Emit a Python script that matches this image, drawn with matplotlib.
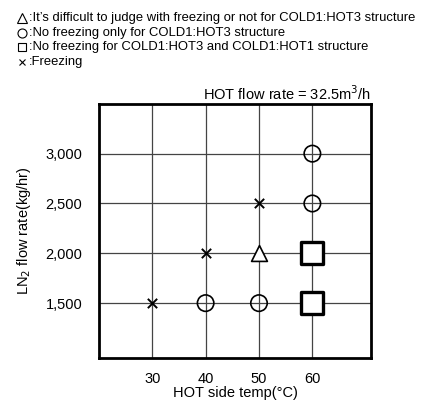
import matplotlib
matplotlib.use('Agg')
import matplotlib.pyplot as plt
from matplotlib.lines import Line2D

plt.rcParams['font.family'] = ['Liberation Sans', 'DejaVu Sans']

# Data
freeze_temp = [30, 40, 50]
freeze_flow = [1500, 2000, 2500]
circle_temp = [40, 50, 60, 60]
circle_flow = [1500, 1500, 2500, 3000]
triangle_temp = [50]
triangle_flow = [2000]
square_temp = [60, 60]
square_flow = [1500, 2000]

xticks = [30, 40, 50, 60]
yticks = [1500, 2000, 2500, 3000]
ytick_labels = ['1,500', '2,000', '2,500', '3,000']

legend_markers = ['^', 'o', 's', 'x']
legend_texts = [
    ':It\u2019s difficult to judge with freezing or not for COLD1:HOT3 structure',
    ':No freezing only for COLD1:HOT3 structure',
    ':No freezing for COLD1:HOT3 and COLD1:HOT1 structure',
    ':Freezing',
]

fig = plt.figure(figsize=(4.28, 4.04), dpi=100)
ax = fig.add_axes([0.231, 0.114, 0.636, 0.629])

ax.set_xlim(20, 71)
ax.set_ylim(950, 3500)
ax.set_xticks(xticks)
ax.set_yticks(yticks)
ax.set_yticklabels(ytick_labels)
ax.tick_params(length=0, labelsize=10.5, pad=12)
ax.tick_params(axis='x', pad=10)
ax.grid(True, color='#444444', linewidth=0.9)
ax.set_axisbelow(True)
for s in ax.spines.values():
    s.set_linewidth(2)

ax.scatter(freeze_temp, freeze_flow, marker='x', s=45, c='black', linewidths=1.4, zorder=3)
ax.scatter(circle_temp, circle_flow, marker='o', s=140, facecolors='none', edgecolors='black', linewidths=1.2, zorder=3)
ax.scatter(triangle_temp, triangle_flow, marker='^', s=130, facecolors='white', edgecolors='black', linewidths=1.2, zorder=3)
ax.scatter(square_temp, square_flow, marker='s', s=230, facecolors='white', edgecolors='black', linewidths=2.4, zorder=3)

ax.set_xlabel('HOT side temp(\u00b0C)', fontsize=10.5, labelpad=0)
ax.set_ylabel('LN$_2$ flow rate(kg/hr)', fontsize=10.5, labelpad=9)
ax.set_title('HOT flow rate = 32.5m$^3$/h', fontsize=10.5, loc='right', pad=3)

# legend block at the top, symbols drawn as markers
for i, (mk, line) in enumerate(zip(legend_markers, legend_texts)):
    y = 1 - (18 + 14.7 * i) / 404
    msize = {'^': 7, 'o': 6.5, 's': 6, 'x': 4}[mk]
    fig.add_artist(Line2D([22 / 428], [y], transform=fig.transFigure, marker=mk,
                          markersize=msize, markerfacecolor='none',
                          markeredgecolor='black', markeredgewidth=0.8, linestyle='none'))
    fig.text(29 / 428, y, line, fontsize=9.4, va='center', ha='left')

fig.savefig('out.png', dpi=100)
